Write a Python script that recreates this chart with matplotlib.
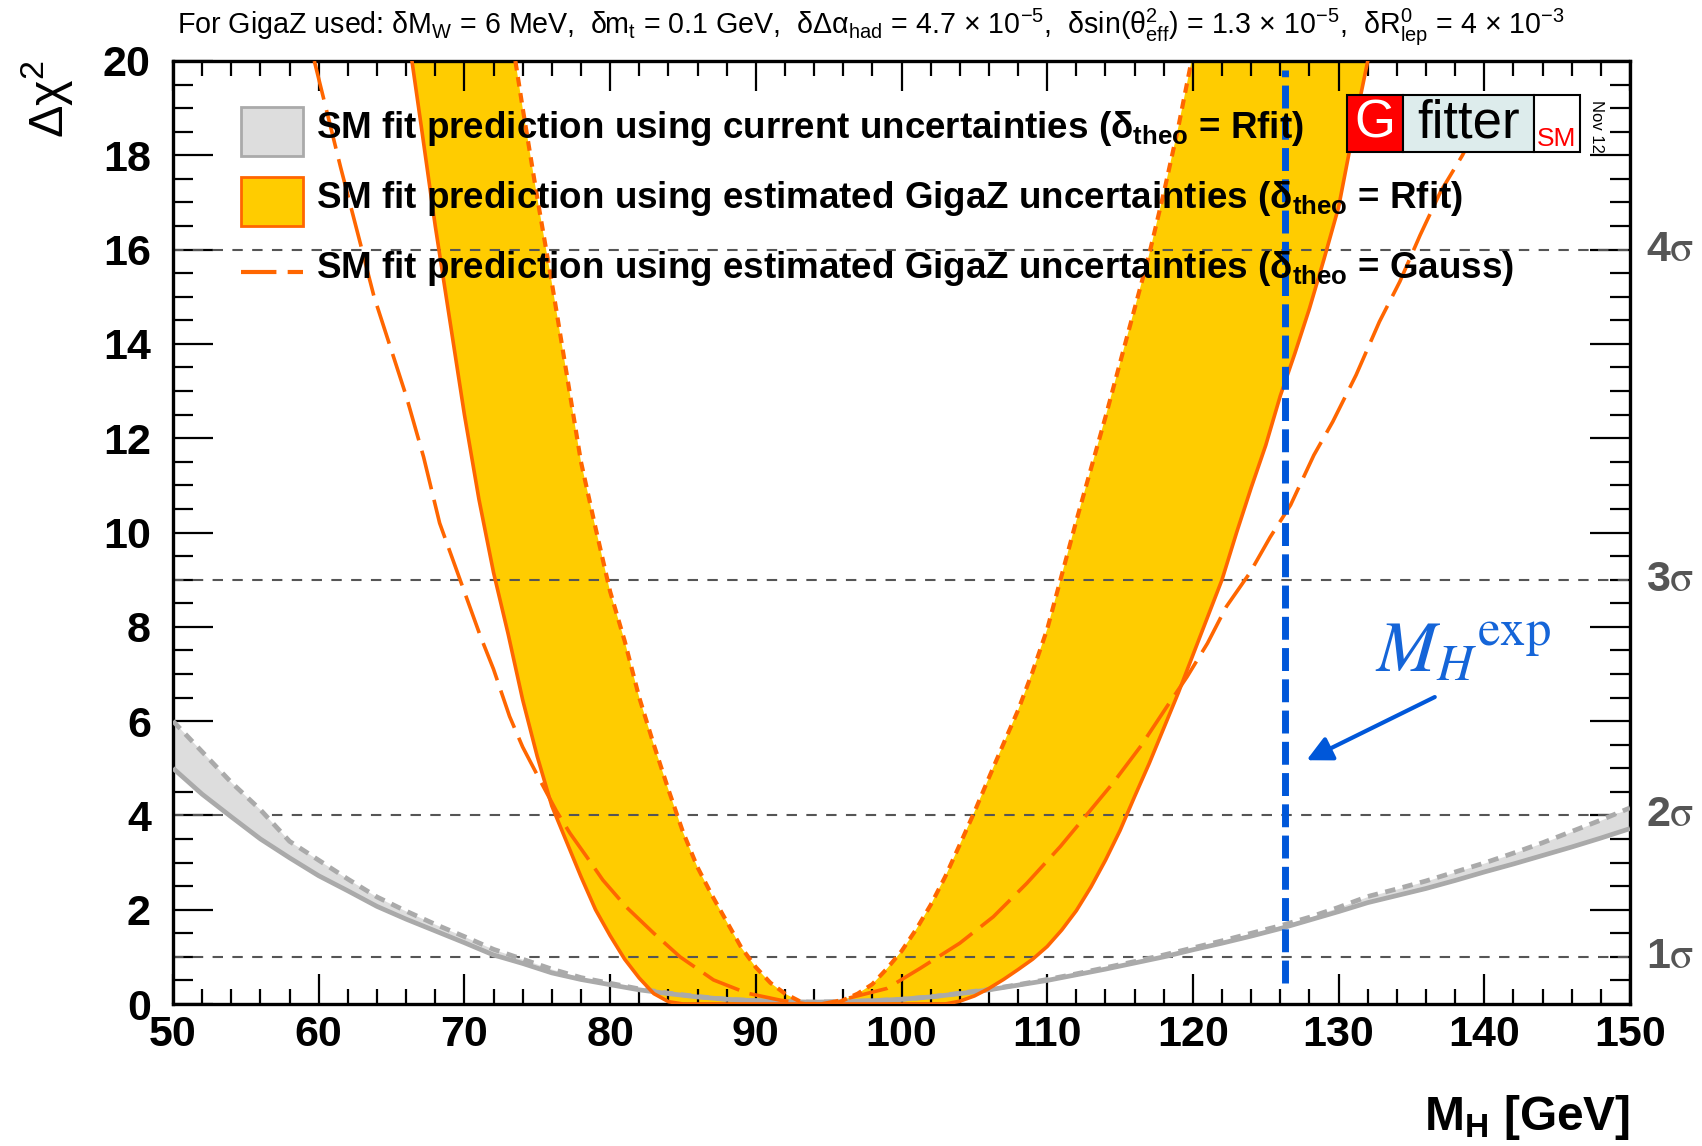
import numpy as np
import matplotlib
matplotlib.use('Agg')
import matplotlib.pyplot as plt
from matplotlib.patches import Rectangle
from matplotlib.lines import Line2D
from matplotlib.ticker import MultipleLocator
import matplotlib.transforms as mtransforms

plt.rcParams['font.family'] = ['Liberation Sans', 'DejaVu Sans']
plt.rcParams['mathtext.fontset'] = 'custom'
plt.rcParams['mathtext.rm'] = 'Liberation Sans'
plt.rcParams['mathtext.it'] = 'Liberation Sans:italic'
plt.rcParams['mathtext.bf'] = 'Liberation Sans:bold'

# ---- data (M_H in GeV, delta chi2) ----
# current uncertainties: band between solid (lower) and dashed (upper) grey line
gray_x = [50, 52, 54, 56, 58, 60, 62, 64, 66, 68, 70, 72, 74, 76, 78, 80, 82, 84, 86, 88,
          90, 92, 94, 96, 98, 100, 102, 104, 106, 108, 110, 112, 114, 116, 118, 120, 122,
          124, 126, 128, 130, 132, 134, 136, 138, 140, 142, 144, 146, 148, 150]
gray_lo = [5.00, 4.45, 3.97, 3.50, 3.10, 2.72, 2.40, 2.07, 1.80, 1.55, 1.30, 1.04, 0.86,
           0.66, 0.52, 0.41, 0.30, 0.22, 0.15, 0.10, 0.07, 0.05, 0.04, 0.05, 0.07, 0.10,
           0.15, 0.22, 0.30, 0.40, 0.50, 0.62, 0.74, 0.87, 1.00, 1.15, 1.29, 1.44, 1.60,
           1.78, 1.96, 2.15, 2.30, 2.45, 2.62, 2.80, 2.97, 3.15, 3.33, 3.52, 3.72]
gray_hi = [6.00, 5.35, 4.70, 4.12, 3.45, 3.05, 2.65, 2.27, 1.97, 1.69, 1.43, 1.16, 0.95,
           0.74, 0.56, 0.44, 0.32, 0.23, 0.16, 0.10, 0.07, 0.05, 0.04, 0.05, 0.07, 0.10,
           0.15, 0.23, 0.31, 0.41, 0.52, 0.64, 0.77, 0.90, 1.04, 1.19, 1.34, 1.50, 1.66,
           1.84, 2.05, 2.28, 2.44, 2.61, 2.80, 2.99, 3.20, 3.42, 3.66, 3.90, 4.16]

# GigaZ, Rfit: outer solid edge
rfit_lo_x = [66.4, 67, 68, 69, 70, 71, 72, 73, 74, 75, 76, 77, 78, 79, 80, 81, 82, 83, 84, 85,
             103, 104, 105, 106, 107, 108, 109, 110, 111, 112, 113, 114, 115, 116, 117, 118,
             119, 120, 121, 122, 123, 124, 125, 126, 127, 128, 129, 130, 131, 132]
rfit_lo_y = [20.0, 18.7, 16.5, 14.5, 12.5, 10.7, 9.15, 7.85, 6.45, 5.25, 4.2, 3.45, 2.7, 2.0,
             1.45, 0.95, 0.55, 0.22, 0.05, 0.0,
             0.0, 0.06, 0.17, 0.33, 0.52, 0.73, 0.95, 1.22, 1.57, 1.98, 2.48, 3.05, 3.68,
             4.4, 5.1, 5.85, 6.6, 7.4, 8.2, 9.0, 10.0, 10.95, 11.85, 12.9, 13.8, 14.75,
             15.8, 16.9, 18.5, 20.0]
# GigaZ, Rfit: inner dotted edge
rfit_hi_x = [73.5, 74, 75, 76, 77, 78, 79, 80, 81, 82, 83, 84, 85, 86, 87, 88, 89, 90, 91, 92,
             93, 93.5, 95.5, 96, 97, 98, 99, 100, 101, 102, 103, 104, 105, 106, 107, 108, 109,
             110, 111, 112, 113, 114, 115, 116, 117, 118, 119, 119.9]
rfit_hi_y = [20.0, 19.0, 17.1, 15.3, 13.4, 11.5, 10.1, 8.75, 7.7, 6.5, 5.5, 4.55, 3.65, 2.9,
             2.3, 1.75, 1.2, 0.78, 0.45, 0.22, 0.06, 0.0, 0.0, 0.08, 0.22, 0.42, 0.75, 1.12,
             1.58, 2.1, 2.7, 3.38, 4.07, 4.8, 5.52, 6.23, 7.05, 7.95, 9.1, 10.25, 11.35,
             12.45, 13.6, 14.75, 15.9, 17.2, 18.6, 20.0]

# GigaZ, Gauss theory errors (right end runs under the logo)
gauss_x = [59.7, 61.5, 62.8, 63.8, 64.9, 66.0, 67.2, 68.3, 69.7, 71.1, 72.0, 73.1, 74.0, 75.3,
           76.3, 77.25, 78.4, 79.5, 81.1, 83.0, 84.8, 87.1, 89.4, 91.7, 93.5, 94.5, 95.8,
           99.0, 101.3, 104.0, 106.3, 108.6, 110.9, 112.7, 114.5, 116.4, 118.2, 119.6, 121.0,
           122.3, 123.9, 125.3, 126.7, 128.3, 129.6, 131.2, 132.8, 134.2, 135.6, 137.0,
           138.5, 140.3]
gauss_y = [20.0, 17.75, 16.2, 15.0, 13.95, 12.9, 11.6, 10.2, 9.0, 7.8, 7.1, 6.1, 5.45, 4.68,
           4.1, 3.62, 3.12, 2.63, 2.06, 1.5, 1.0, 0.51, 0.23, 0.08, 0.0, 0.0, 0.08,
           0.33, 0.76, 1.29, 1.85, 2.56, 3.34, 4.01, 4.68, 5.46, 6.3, 6.94, 7.65,
           8.43, 9.14, 9.9, 10.58, 11.64, 12.35, 13.34, 14.47, 15.32, 16.31, 17.23,
           18.0, 19.1]

mh_exp = 126.3
sigma_levels = [1, 4, 9, 16]
sigma_labels = ['1', '2', '3', '4']

ORANGE = '#FF6600'
YELLOW = '#FFCC00'
GREY_LINE = '#AAAAAA'
GREY_FILL = '#DDDDDD'
BLUE = '#0057D9'

W, H = 1702, 1146
def fx(px):
    return px / W
def fy(py):
    return 1 - py / H

fig = plt.figure(figsize=(W / 100, H / 100), dpi=100)
ax = fig.add_axes([fx(173), fy(1004), (1630 - 173) / W, (1004 - 61) / H])

# yellow band (outer solid edge, back along inner dotted edge)
ax.fill(np.concatenate([rfit_lo_x, rfit_hi_x[::-1]]),
        np.concatenate([rfit_lo_y, rfit_hi_y[::-1]]),
        color=YELLOW, lw=0, zorder=1)

for lev in sigma_levels:
    ax.plot([50, 150], [lev, lev], color='#555555', lw=1.5, dashes=(5, 4.5), zorder=2)

ax.fill_between(gray_x, gray_lo, gray_hi, color=GREY_FILL, lw=0, zorder=2.5)
ax.plot(gray_x, gray_lo, color=GREY_LINE, lw=3.4, zorder=3, solid_capstyle='butt')
ax.plot(gray_x, gray_hi, color=GREY_LINE, lw=3.4, dashes=(2.2, 1.6), zorder=3)

ax.plot(rfit_lo_x, rfit_lo_y, color=ORANGE, lw=2.6, zorder=3.5)
ax.plot(rfit_hi_x, rfit_hi_y, color=ORANGE, lw=3.0, dashes=(2.3, 1.6), zorder=3.5)
ax.plot(gauss_x, gauss_y, color=ORANGE, lw=2.6, dashes=(11, 3), zorder=3.5)

ax.plot([mh_exp, mh_exp], [0.45, 19.8], color=BLUE, lw=5, dashes=(3.3, 1.2), zorder=4)
ax.annotate('', xy=(127.8, 5.17), xytext=(136.6, 6.51),
            arrowprops=dict(arrowstyle='-|>', color=BLUE, lw=3, mutation_scale=38,
                            shrinkA=0, shrinkB=0), zorder=4)
ax.text(132.5, 7.05, r'$M_{H}{}^{\mathrm{exp}}$', math_fontfamily='stix', color='#1565D8',
        fontsize=52, ha='left', va='baseline', zorder=4)

ax.set_xlim(50, 150)
ax.set_ylim(0, 20)
ax.xaxis.set_major_locator(MultipleLocator(10))
ax.xaxis.set_minor_locator(MultipleLocator(2))
ax.yaxis.set_major_locator(MultipleLocator(2))
ax.yaxis.set_minor_locator(MultipleLocator(0.5))
ax.tick_params(which='both', direction='in', top=True, right=True, width=1.6, colors='black')
ax.tick_params(axis='x', which='major', length=21.6, labelsize=31, pad=8)
ax.tick_params(axis='x', which='minor', length=10.8)
ax.tick_params(axis='y', which='major', length=28.8, labelsize=31, pad=16)
ax.tick_params(axis='y', which='minor', length=14.4)
for lab in ax.get_xticklabels() + ax.get_yticklabels():
    lab.set_fontweight('bold')
for sp in ax.spines.values():
    sp.set_linewidth(2.4)

# sigma labels on the right
trans = mtransforms.blended_transform_factory(ax.transAxes, ax.transData)
for lev, lab in zip(sigma_levels, sigma_labels):
    ax.text(1.011, lev, lab + r'$\mathrm{\sigma}$', transform=trans, math_fontfamily='stix',
            fontsize=31, fontweight='bold', color='#555555', ha='left', va='center',
            clip_on=False)

# axis titles
fig.text(fx(47), fy(60), r'Δχ$^{2}$', rotation=90, fontsize=35, ha='center', va='top')
fig.text(fx(1630), fy(1130), r'M$_{\mathbf{H}}$ [GeV]', fontsize=34.5, fontweight='bold',
         ha='right', va='baseline')

# header
fig.text(fx(177), fy(33),
         r'For GigaZ used: δM$_{\mathrm{W}}$ = 6 MeV,  δm$_{\mathrm{t}}$ = 0.1 GeV,  '
         r'δΔα$_{\mathrm{had}}$ = 4.7 × 10$^{-5}$,  δsin(θ$^{2}_{\mathrm{eff}}$) = 1.3 × 10$^{-5}$,  '
         r'δR$^{0}_{\mathrm{lep}}$ = 4 × 10$^{-3}$',
         fontsize=20.6, ha='left', va='baseline')

# legend
fig.add_artist(Rectangle((fx(241), fy(156)), 62 / W, 49 / H, transform=fig.transFigure,
                         facecolor=GREY_FILL, edgecolor=GREY_LINE, lw=2, zorder=5))
fig.add_artist(Rectangle((fx(241), fy(226)), 62 / W, 49 / H, transform=fig.transFigure,
                         facecolor=YELLOW, edgecolor=ORANGE, lw=2, zorder=5))
fig.add_artist(Line2D([fx(241), fx(303)], [fy(272), fy(272)], transform=fig.transFigure,
                      color=ORANGE, lw=3, dashes=(8.5, 2.7), zorder=5))
legend_labels = [
    r'SM fit prediction using current uncertainties (δ$_{\mathbf{theo}}$ = Rfit)',
    r'SM fit prediction using estimated GigaZ uncertainties (δ$_{\mathbf{theo}}$ = Rfit)',
    r'SM fit prediction using estimated GigaZ uncertainties (δ$_{\mathbf{theo}}$ = Gauss)',
]
for lab, base in zip(legend_labels, [138, 208, 278]):
    fig.text(fx(316), fy(base), lab, fontsize=26.5, fontweight='bold', ha='left',
             va='baseline', zorder=6)

# Gfitter logo
fig.add_artist(Rectangle((fx(1347), fy(152)), (1403 - 1347) / W, 57 / H,
                         transform=fig.transFigure, facecolor='#FF0000', edgecolor='black',
                         lw=1.5, zorder=7))
fig.add_artist(Rectangle((fx(1403), fy(152)), (1534 - 1403) / W, 57 / H,
                         transform=fig.transFigure, facecolor='#DDECEC', edgecolor='black',
                         lw=1.5, zorder=7))
fig.add_artist(Rectangle((fx(1534), fy(152)), (1580 - 1534) / W, 57 / H,
                         transform=fig.transFigure, facecolor='white', edgecolor='black',
                         lw=1.5, zorder=7))
fig.text(fx(1375), fy(124), 'G', color='white', fontsize=38, ha='center', va='center',
         zorder=8)
fig.text(fx(1469), fy(124), 'fitter', color='black', fontsize=38, ha='center', va='center',
         zorder=8)
fig.text(fx(1557), fy(146), 'SM', color='#FF0000', fontsize=19, ha='center', va='baseline',
         zorder=8)
fig.text(fx(1596), fy(127), 'Nov 12', rotation=-90, fontsize=12, ha='center', va='center',
         zorder=8)

fig.savefig('out.png', dpi=100)
